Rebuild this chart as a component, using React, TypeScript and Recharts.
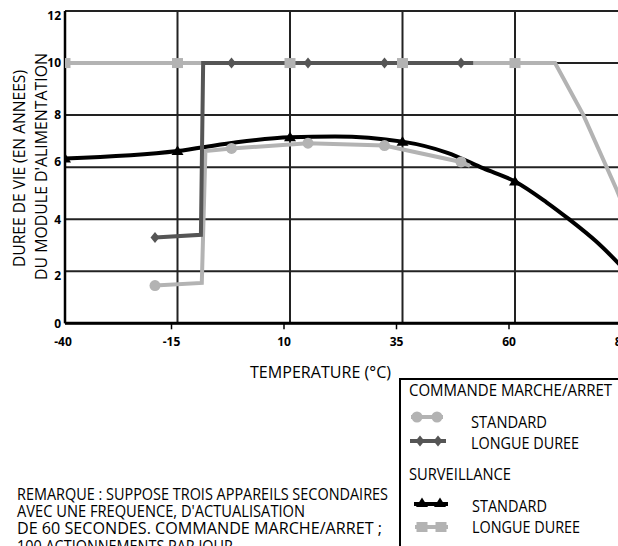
import { LineChart, Line, XAxis, YAxis, CartesianGrid } from 'recharts';

// axis ticks
const xTicks = [-40, -15, 10, 35, 60, 85];
const yTicks = [0, 2, 4, 6, 8, 10, 12];

// COMMANDE MARCHE/ARRET - STANDARD (circles)
const onOffStdTemp = [-20, -9.6, -8.8, -3, 14, 31, 48, 50];
const onOffStdLife = [1.45, 1.55, 6.62, 6.72, 6.92, 6.83, 6.2, 6.05];
const onOffStdMarks = [-20, -3, 14, 31, 48];

// COMMANDE MARCHE/ARRET - LONGUE DUREE (diamonds)
const onOffLongTemp = [-20, -9.8, -9.3, -3, 14, 31, 48, 50.7];
const onOffLongLife = [3.3, 3.4, 10, 10, 10, 10, 10, 10];
const onOffLongMarks = [-20, -3, 14, 31, 48];

// SURVEILLANCE - STANDARD (triangles)
const monStdTemp = [-40, -15, -3, 10, 20, 35, 45, 53, 60, 67, 72, 78, 85];
const monStdLife = [6.33, 6.62, 6.93, 7.15, 7.18, 6.98, 6.55, 5.95, 5.45, 4.65, 4.0, 3.15, 1.95];
const monStdMarks = [-40, -15, 10, 35, 60];

// SURVEILLANCE - LONGUE DUREE (squares)
const monLongTemp = [-40, -15, 10, 35, 60, 68.9, 75.2, 82.6, 85];
const monLongLife = [10, 10, 10, 10, 10, 10, 8.0, 5.13, 4.1];
const monLongMarks = [-40, -15, 10, 35, 60];

const noteLines = [
  'REMARQUE : SUPPOSE TROIS APPAREILS SECONDAIRES',
  "AVEC UNE FREQUENCE, D'ACTUALISATION",
  'DE 60 SECONDES. COMMANDE MARCHE/ARRET ;',
  '100 ACTIONNEMENTS PAR JOUR',
];

const LIGHT = '#b3b3b3';
const DARK = '#555555';
const BLACK = '#000000';
const FONT = "'Liberation Sans Narrow', 'Open Sans', Arial, sans-serif";

const toRows = (t: number[], v: number[]) => t.map((x, i) => ({ t: x, v: v[i] }));

type Shape = 'circle' | 'diamond' | 'triangle' | 'square';

function marker(shape: Shape, cx: number, cy: number, key?: string | number) {
  if (shape === 'circle') return <circle key={key} cx={cx} cy={cy} r={5.5} fill={LIGHT} />;
  if (shape === 'diamond')
    return <polygon key={key} points={`${cx},${cy - 5.5} ${cx + 4.5},${cy} ${cx},${cy + 5.5} ${cx - 4.5},${cy}`} fill={DARK} />;
  if (shape === 'triangle')
    return <polygon key={key} points={`${cx},${cy - 5.5} ${cx + 6},${cy + 4} ${cx - 6},${cy + 4}`} fill={BLACK} />;
  return <rect key={key} x={cx - 5.5} y={cy - 5} width={11} height={10} fill={LIGHT} />;
}

const dotFor = (shape: Shape, marks: number[]) => (props: any) => {
  const { cx, cy, payload, index } = props;
  if (cx == null || cy == null || !marks.includes(payload.t)) return <g key={`d${index}`} />;
  return marker(shape, cx, cy, `d${index}`);
};

const yNudge: Record<number, number> = { 12: 5, 6: -5, 2: 4 };

const YTick = (props: any) => {
  const { x, y, payload } = props;
  return (
    <text x={x} y={y + (yNudge[payload.value] || 0)} dy="0.36em" textAnchor="end"
      fontFamily={FONT} fontWeight="bold" fontSize={12} fill="#000">
      {payload.value}
    </text>
  );
};

const XTick = (props: any) => {
  const { x, y, payload } = props;
  const tx = payload.value === -40 ? x - 2 : x - 6;
  return (
    <g>
      {payload.value !== -40 && <line x1={tx} x2={tx} y1={y} y2={y + 6} stroke="#000" strokeWidth={1.5} />}
      <text x={tx} y={y + 23} textAnchor="middle" fontFamily={FONT} fontWeight="bold" fontSize={12} fill="#000">
        {payload.value}
      </text>
    </g>
  );
};

export default function App() {
  const txt = { fontFamily: FONT, fontSize: 16, fill: '#000' };
  return (
    <div style={{ position: 'absolute', left: 0, top: 0, width: 618, height: 546, overflow: 'hidden', background: '#fff' }}>
      <LineChart width={660} height={360} margin={{ top: 11, right: 32.5, left: 0, bottom: 0 }}>
        <CartesianGrid stroke="#222" strokeWidth={2} />
        <XAxis
          type="number"
          dataKey="t"
          domain={[-40, 85]}
          ticks={xTicks}
          height={36.7}
          tickSize={0}
          tickMargin={0}
          tickLine={false}
          axisLine={{ stroke: '#000', strokeWidth: 3 }}
          tick={<XTick />}
          allowDataOverflow
        />
        <YAxis
          type="number"
          domain={[0, 12]}
          ticks={yTicks}
          width={65}
          tickSize={0}
          tickMargin={4}
          tickLine={false}
          axisLine={{ stroke: '#000', strokeWidth: 2.5 }}
          tick={<YTick />}
        />
        <Line data={toRows(monLongTemp, monLongLife)} dataKey="v" type="linear" stroke={LIGHT}
          strokeWidth={4} dot={false} isAnimationActive={false} />
        <Line data={toRows(monStdTemp, monStdLife)} dataKey="v" type="monotone" stroke={BLACK}
          strokeWidth={4} dot={dotFor('triangle', monStdMarks)} isAnimationActive={false} />
        <Line data={toRows(onOffStdTemp, onOffStdLife)} dataKey="v" type="linear" stroke={LIGHT}
          strokeWidth={4} dot={dotFor('circle', onOffStdMarks)} isAnimationActive={false} />
        <Line data={toRows(onOffLongTemp, onOffLongLife)} dataKey="v" type="linear" stroke={DARK}
          strokeWidth={4} dot={dotFor('diamond', onOffLongMarks)} isAnimationActive={false} />
        <Line data={toRows(monLongTemp, monLongLife)} dataKey="v" type="linear" stroke="none"
          dot={dotFor('square', monLongMarks)} isAnimationActive={false} />
      </LineChart>

      <svg width={618} height={546} style={{ position: 'absolute', left: 0, top: 0, pointerEvents: 'none' }}>
        {/* axis titles */}
        <text {...txt} transform="translate(24.5,168.5) rotate(-90)" textAnchor="middle"
          textLength={197} lengthAdjust="spacingAndGlyphs">DUREE DE VIE (EN ANNEES)</text>
        <text {...txt} transform="translate(46.5,166.5) rotate(-90)" textAnchor="middle"
          textLength={227} lengthAdjust="spacingAndGlyphs">DU MODULE D'ALIMENTATION</text>
        <text {...txt} fontSize={17} x={250} y={377.5} textLength={141} lengthAdjust="spacingAndGlyphs">TEMPERATURE (°C)</text>

        {/* legend */}
        <rect x={400} y={379} width={240} height={200} fill="none" stroke="#000" strokeWidth={2} />
        <text {...txt} x={409} y={396} textLength={203} lengthAdjust="spacingAndGlyphs">COMMANDE MARCHE/ARRET</text>
        <line x1={411} x2={443} y1={417} y2={417} stroke={LIGHT} strokeWidth={4} />
        {marker('circle', 417, 417)}
        {marker('circle', 437, 417)}
        <text {...txt} x={471} y={428} textLength={76} lengthAdjust="spacingAndGlyphs">STANDARD</text>
        <line x1={410} x2={446} y1={441} y2={441} stroke={DARK} strokeWidth={4} />
        {marker('diamond', 420, 441)}
        {marker('diamond', 438, 441)}
        <text {...txt} x={471} y={449} textLength={108} lengthAdjust="spacingAndGlyphs">LONGUE DUREE</text>
        <text {...txt} x={409} y={480} textLength={102} lengthAdjust="spacingAndGlyphs">SURVEILLANCE</text>
        <line x1={414} x2={448} y1={504} y2={504} stroke={BLACK} strokeWidth={4} />
        {marker('triangle', 422, 503)}
        {marker('triangle', 440, 503)}
        <text {...txt} x={472} y={512} textLength={75} lengthAdjust="spacingAndGlyphs">STANDARD</text>
        <line x1={415} x2={448} y1={527} y2={527} stroke={LIGHT} strokeWidth={4} />
        {marker('square', 422, 527)}
        {marker('square', 441, 527)}
        <text {...txt} x={472} y={533} textLength={108} lengthAdjust="spacingAndGlyphs">LONGUE DUREE</text>

        {/* note */}
        {noteLines.map((l, i) => (
          <text key={i} {...txt} x={17} y={500 + i * 17.2}
            textLength={[371, 288, 365, 216][i]} lengthAdjust="spacingAndGlyphs">{l}</text>
        ))}
      </svg>
    </div>
  );
}
